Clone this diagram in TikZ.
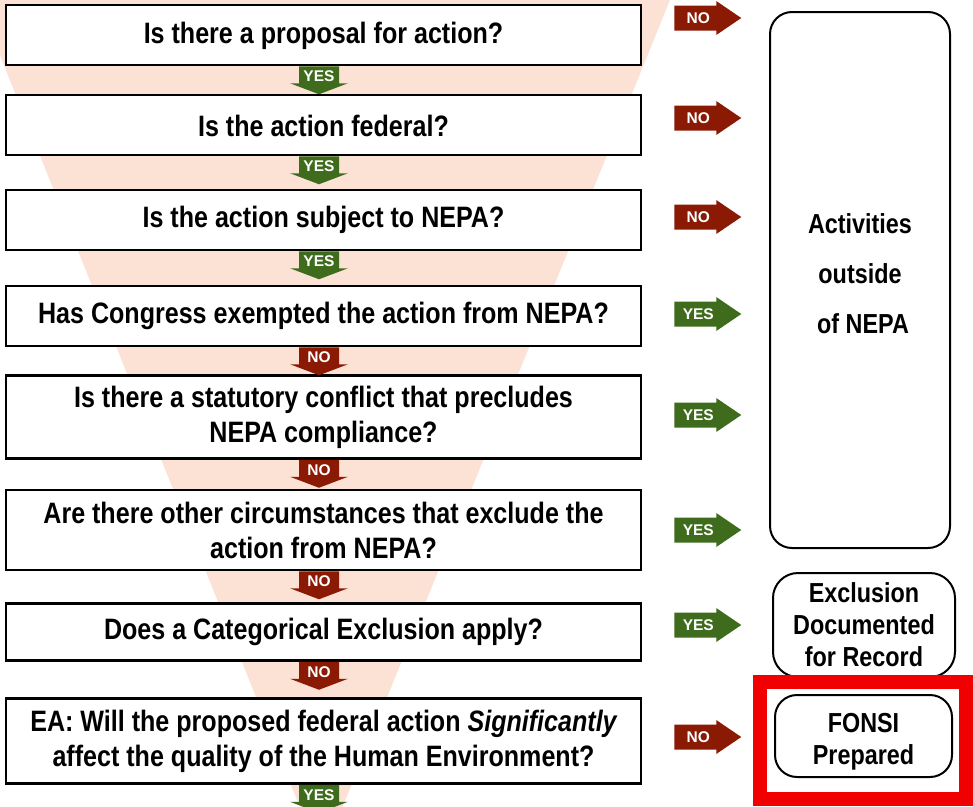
\documentclass[tikz,border=0pt]{standalone}
\usepackage{fontspec}
\setmainfont{Liberation Sans}[FakeStretch=0.85]
\newfontfamily\tagfont{Liberation Sans}
\usetikzlibrary{calc}

\definecolor{funnel}{RGB}{252,225,213}
\definecolor{nored}{RGB}{139,26,4}
\definecolor{yesgreen}{RGB}{62,108,28}
\definecolor{frame}{RGB}{240,0,0}

\tikzset{
  question/.style={draw=black, line width=2.5pt, fill=white, minimum width=635pt,
    align=center, inner sep=0pt, font=\bfseries\fontsize{29.5}{35}\selectfont},
  outcome/.style={draw=black, line width=2pt, fill=white, rounded corners=22pt,
    align=center, inner sep=0pt, font=\bfseries\fontsize{27.5}{32}\selectfont},
  tag/.style={text=white, inner sep=0pt, font=\tagfont\bfseries\fontsize{15.5}{15}\selectfont},
}

% block arrow pointing down from the bottom of a question box
\newcommand{\downtag}[3]{%
  \coordinate (dt) at ($(#1.south)+(-4.5,0)$);
  \fill[#2] (dt) ++(-20,0) -- ++(40,0) -- ++(0,17) -- ++(9,0) -- ++(-29,11)
    -- ++(-29,-11) -- ++(9,0) -- cycle;
  \node[tag] at ($(dt)+(0,10)$) {#3};}

% block arrow pointing right, beside a question box
\newcommand{\righttag}[4]{%
  \coordinate (rt) at ($(#1.east)+(32,#2)$);
  \fill[#3] (rt) ++(0,-12.5) -- ++(42,0) -- ++(0,-4.5) -- ++(25,17) -- ++(-25,17)
    -- ++(0,-4.5) -- ++(-42,0) -- cycle;
  \node[tag] at ($(rt)+(24,0)$) {#4};}

\begin{document}
\begin{tikzpicture}[x=1pt,y=-1pt]
\useasboundingbox (0,0) rectangle (973,806);
\begin{scope}
  \clip (0,0) rectangle (973,806);
  \fill[white] (0,0) rectangle (973,806);
  % pale funnel behind the decision chain
  \fill[funnel] (-26,-10) -- (674,-10) -- (321,860) -- cycle;

  % decision boxes
  \node[question, minimum height=60pt] (q1) at (323.5,35) {\rule{0pt}{23pt}Is there a proposal for action?};
  \node[question, minimum height=60pt] (q2) at (323.5,125) {\rule{0pt}{23pt}Is the action federal?};
  \node[question, minimum height=60pt] (q3) at (323.5,220) {Is the action subject to NEPA?};
  \node[question, minimum height=60pt] (q4) at (323.5,316) {Has Congress exempted the action from NEPA?};
  \node[question, minimum height=83pt] (q5) at (323.5,417) {Is there a statutory conflict that precludes\\NEPA compliance?};
  \node[question, minimum height=80pt] (q6) at (323.5,530) {Are there other circumstances that exclude the\\action from NEPA?};
  \node[question, minimum height=57pt] (q7) at (323.5,632) {Does a Categorical Exclusion apply?};
  \node[question, minimum height=85pt] (q8) at (323.5,741) {EA: Will the proposed federal action {\itshape Significantly}\\affect the quality of the Human Environment?};

  % answers leading down the chain
  \downtag{q1}{yesgreen}{YES}
  \downtag{q2}{yesgreen}{YES}
  \downtag{q3}{yesgreen}{YES}
  \downtag{q4}{nored}{NO}
  \downtag{q5}{nored}{NO}
  \downtag{q6}{nored}{NO}
  \downtag{q7}{nored}{NO}
  \downtag{q8}{yesgreen}{YES}

  % answers leading out to the right
  \righttag{q1}{-17}{nored}{NO}
  \righttag{q2}{-7}{nored}{NO}
  \righttag{q3}{-3}{nored}{NO}
  \righttag{q4}{-2}{yesgreen}{YES}
  \righttag{q5}{-2}{yesgreen}{YES}
  \righttag{q6}{0}{yesgreen}{YES}
  \righttag{q7}{-7}{yesgreen}{YES}
  \righttag{q8}{-4}{nored}{NO}

  % outcomes
  \node[outcome, minimum width=180pt, minimum height=536pt,
    font=\bfseries\fontsize{27.5}{50}\selectfont] (out) at (860,280)
    {Activities\\outside\\\hspace*{6pt}of NEPA\rule[-12pt]{0pt}{12pt}};
  \node[outcome, rounded corners=25pt, minimum width=182pt, minimum height=104pt] (excl) at (864,625)
    {Exclusion\\Documented\\for Record};
  \draw[frame, line width=14pt] (760,682) rectangle (966,799);
  \node[outcome, minimum width=177pt, minimum height=82pt] (fonsi) at (863.5,736)
    {\rule{0pt}{30pt}FONSI\\Prepared};
\end{scope}
\end{tikzpicture}
\end{document}
